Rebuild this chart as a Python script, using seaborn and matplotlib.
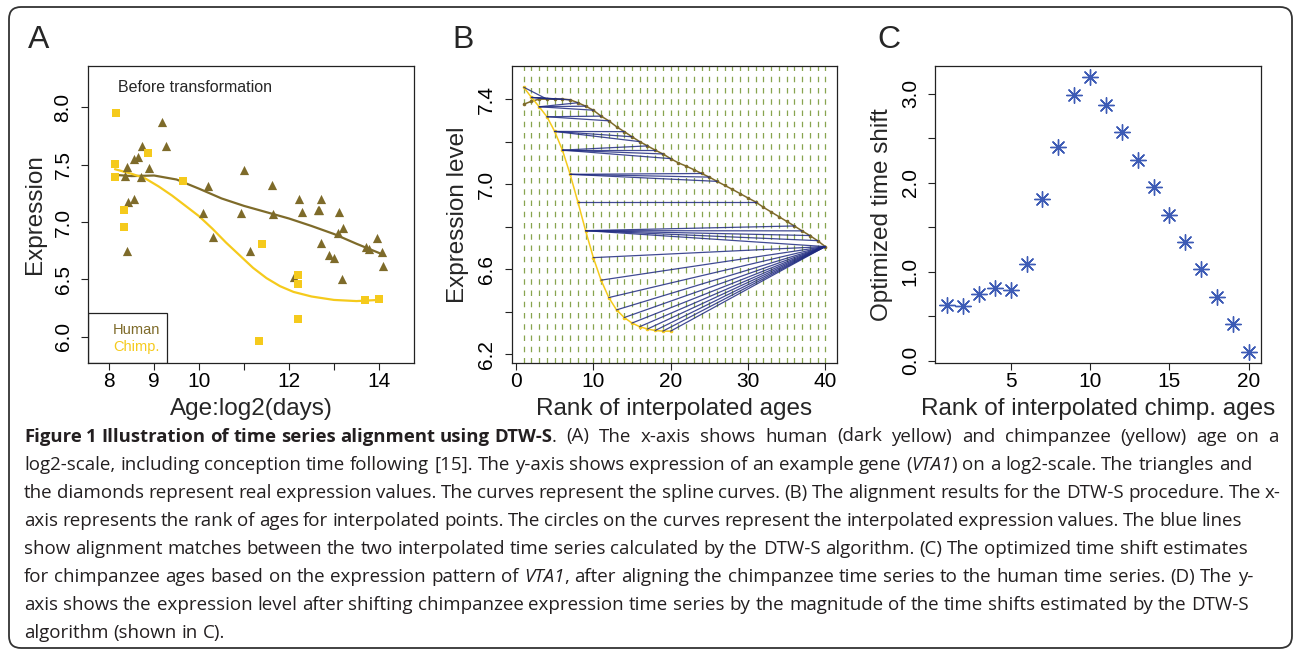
import matplotlib
matplotlib.use("Agg")
import matplotlib.pyplot as plt
import seaborn as sns
import pandas as pd
from matplotlib.patches import FancyBboxPatch, Rectangle
from matplotlib.transforms import IdentityTransform
from matplotlib.font_manager import FontProperties

# ---------------- Panel A data ----------------
human_age = [8.36, 8.39, 8.39, 8.41, 8.55, 8.55, 8.64, 8.72, 8.70, 8.89, 9.18, 9.26,
             10.20, 10.08, 10.31, 11.00, 10.94, 11.14, 11.63, 11.64, 12.11, 12.23,
             12.29, 12.65, 12.67, 12.72, 12.72, 12.89, 13.01, 13.11, 13.08, 13.21,
             13.18, 13.71, 13.79, 13.95, 14.06, 14.10]
human_expr = [7.40, 7.48, 6.75, 7.17, 7.20, 7.55, 7.57, 7.66, 7.39, 7.47, 7.87, 7.66,
              7.31, 7.08, 6.87, 7.45, 7.08, 6.75, 7.32, 7.07, 6.52, 7.20,
              7.09, 7.10, 7.10, 7.20, 6.82, 6.71, 6.69, 7.09, 6.90, 6.95,
              6.50, 6.78, 6.76, 6.86, 6.74, 6.62]
chimp_age = [8.16, 8.13, 8.14, 8.86, 8.34, 8.32, 9.65, 11.41, 12.19, 12.21, 12.19,
             11.34, 13.68, 14.00]
chimp_expr = [7.95, 7.505, 7.39, 7.60, 7.10, 6.96, 7.36, 6.81, 6.54, 6.46, 6.15,
              5.96, 6.32, 6.33]
human_curve_age = [8.15, 8.5, 9.0, 9.5, 10.0, 10.5, 11.0, 11.5, 12.0, 12.5, 13.0,
                   13.5, 14.0, 14.1]
human_curve_expr = [7.41, 7.40, 7.405, 7.37, 7.29, 7.205, 7.14, 7.085, 7.03, 6.965,
                    6.895, 6.81, 6.73, 6.71]
chimp_curve_age = [8.13, 8.5, 8.8, 9.1, 9.4, 9.7, 10.0, 10.3, 10.6, 10.9, 11.2,
                   11.5, 11.8, 12.1, 12.5, 13.0, 13.5, 14.0]
chimp_curve_expr = [7.46, 7.42, 7.38, 7.31, 7.23, 7.14, 7.05, 6.94, 6.82, 6.71, 6.60,
                    6.51, 6.44, 6.39, 6.35, 6.32, 6.31, 6.32]

# ---------------- Panel B data ----------------
human_rank = list(range(1, 41))
human_interp = [7.376, 7.39, 7.40, 7.40, 7.40, 7.40, 7.397, 7.383, 7.367, 7.348,
                7.32, 7.298, 7.27, 7.247, 7.223, 7.20, 7.18, 7.16, 7.142, 7.12,
                7.10, 7.085, 7.068, 7.05, 7.033, 7.013, 6.994, 6.975, 6.955, 6.935,
                6.916, 6.891, 6.869, 6.847, 6.825, 6.803, 6.78, 6.758, 6.734, 6.706]
chimp_rank = list(range(1, 21))
chimp_interp = [7.456, 7.408, 7.364, 7.317, 7.248, 7.16, 7.046, 6.916, 6.781, 6.654,
                6.548, 6.466, 6.408, 6.372, 6.346, 6.329, 6.318, 6.311, 6.308, 6.308]
match_chimp = [1, 2, 2, 2, 3, 3, 3, 4, 4, 5, 5, 5, 6, 6, 6, 6, 7, 7, 7, 8,
               9, 9, 9, 9, 9, 10, 11, 12, 13, 14, 15, 16, 17, 18, 19, 20]
match_human = [4, 5, 6, 7, 8, 9, 10, 11, 12, 14, 15, 16, 17, 18, 19, 20, 24, 25, 26, 31,
               36, 37, 38, 39, 40, 40, 40, 40, 40, 40, 40, 40, 40, 40, 40, 40]

# ---------------- Panel C data ----------------
shift_rank = list(range(1, 21))
time_shift = [0.625, 0.614, 0.752, 0.812, 0.80, 1.092, 1.818, 2.40, 2.985, 3.187,
              2.88, 2.57, 2.26, 1.95, 1.64, 1.34, 1.03, 0.72, 0.41, 0.097]

# ---------------- styling ----------------
HUMAN_C = "#7E6B2A"
CHIMP_C = "#F5CA1C"
BLUE_LINE = "#1F2A80"
GREEN = "#6B8E23"
STAR_C = "#3D5BB5"

sns.set_style("white")
plt.rcParams["font.family"] = ["Liberation Sans", "DejaVu Sans"]

W, H = 1295, 651
fig = plt.figure(figsize=(W / 100, H / 100), dpi=100)
fig.patch.set_facecolor("white")


def add_axes_px(x0, x1, y0, y1):
    return fig.add_axes([x0 / W, 1 - y1 / H, (x1 - x0) / W, (y1 - y0) / H])


def style_axes(ax):
    for s in ax.spines.values():
        s.set_visible(True)
        s.set_color("#222222")
        s.set_linewidth(0.9)
    ax.tick_params(axis="both", direction="out", length=5, width=0.8,
                   colors="#222222", labelsize=15, bottom=True, left=True)
    ax.tick_params(axis="x", pad=8)
    ax.tick_params(axis="y", pad=13)
    ax.set_facecolor("white")


def set_ticks(ax, xt, xl, yt, yl):
    ax.set_xticks(xt)
    ax.set_xticklabels(xl, va="center", color="black")
    ax.set_yticks(yt)
    ax.set_yticklabels(yl, rotation=90, va="center", ha="center", color="black")


def set_labels(ax, xlabel, ylabel, ylx):
    ax.set_xlabel(xlabel, fontsize=17.5, va="center")
    ax.xaxis.set_label_coords(0.5, -46 / 297)
    ax.set_ylabel(ylabel, fontsize=17.5, va="center", ha="center")
    ax.yaxis.set_label_coords(ylx, 0.5)


# ---------------- Panel A ----------------
axA = add_axes_px(88, 414, 66, 363)
style_axes(axA)
sns.lineplot(x=human_curve_age, y=human_curve_expr, ax=axA, color=HUMAN_C, lw=1.6,
             sort=False, estimator=None)
sns.lineplot(x=chimp_curve_age, y=chimp_curve_expr, ax=axA, color=CHIMP_C, lw=1.6,
             sort=False, estimator=None)
sns.scatterplot(x=human_age, y=human_expr, ax=axA, marker="^", s=44, color=HUMAN_C,
                linewidth=0, zorder=3)
sns.scatterplot(x=chimp_age, y=chimp_expr, ax=axA, marker="s", s=28, color=CHIMP_C,
                linewidth=0, zorder=3)
axA.set_xlim(7.53, 14.78)
axA.set_ylim(5.77, 8.36)
set_ticks(axA, [8, 9, 10, 11, 12, 13, 14], ["8", "9", "10", "", "12", "", "14"],
          [6.0, 6.5, 7.0, 7.5, 8.0], ["6.0", "6.5", "7.0", "7.5", "8.0"])
set_labels(axA, "Age:log2(days)", "Expression", -53 / 326)
axA.text(30 / 326, 0.929, "Before transformation", transform=axA.transAxes,
         fontsize=11.5, va="center", ha="left")
axA.add_patch(Rectangle((0, 0), 79 / 326, 50 / 297, transform=axA.transAxes,
                        fill=False, ec="#222222", lw=0.9, zorder=4))
axA.text(25 / 326, 0.111, "Human", transform=axA.transAxes, color=HUMAN_C,
         fontsize=10.5, va="center", ha="left")
axA.text(25 / 326, 0.054, "Chimp.", transform=axA.transAxes, color=CHIMP_C,
         fontsize=10.5, va="center", ha="left")

# ---------------- Panel B ----------------
axB = add_axes_px(511.7, 837.3, 66, 363)
style_axes(axB)
for xi in human_rank:
    axB.axvline(xi, color=GREEN, lw=0.9, alpha=0.8, dashes=(4.4, 4.6), zorder=1)
sns.lineplot(x=human_rank, y=human_interp, ax=axB, color=HUMAN_C, lw=1.1,
             marker="o", markersize=2.6, markeredgewidth=0, sort=False,
             estimator=None, zorder=2)
sns.lineplot(x=chimp_rank, y=chimp_interp, ax=axB, color=CHIMP_C, lw=1.1,
             marker="o", markersize=2.6, markeredgewidth=0, sort=False,
             estimator=None, zorder=2)
for ci, hi in zip(match_chimp, match_human):
    axB.plot([chimp_rank[ci - 1], human_rank[hi - 1]],
             [chimp_interp[ci - 1], human_interp[hi - 1]],
             color=BLUE_LINE, lw=0.9, alpha=0.85, zorder=3)
axB.set_xlim(-0.56, 41.56)
axB.set_ylim(6.158, 7.556)
set_ticks(axB, [0, 10, 20, 30, 40], ["0", "10", "20", "30", "40"],
          [6.2, 6.4, 6.6, 6.8, 7.0, 7.2, 7.4], ["6.2", "", "6.6", "", "7.0", "", "7.4"])
set_labels(axB, "Rank of interpolated ages", "Expression level", -53.7 / 325.6)

# ---------------- Panel C ----------------
axC = add_axes_px(935.3, 1260.7, 66, 363)
style_axes(axC)
sns.scatterplot(x=shift_rank, y=time_shift, ax=axC, marker=(8, 2, 0), s=125,
                color=STAR_C, edgecolor=STAR_C, linewidth=1.0, zorder=3)
axC.set_xlim(0.24, 20.76)
axC.set_ylim(-0.026, 3.314)
set_ticks(axC, [5, 10, 15, 20], ["5", "10", "15", "20"],
          [0.0, 0.5, 1.0, 1.5, 2.0, 2.5, 3.0], ["0.0", "", "1.0", "", "2.0", "", "3.0"])
set_labels(axC, "Rank of interpolated chimp. ages", "Optimized time shift", -53.3 / 325.4)

# ---------------- panel letters ----------------
for lx, letter in [(28, "A"), (452, "B"), (877, "C")]:
    fig.text(lx / W, 1 - 48 / H, letter, fontsize=23, va="baseline", ha="left")

# ---------------- frame ----------------
frame = FancyBboxPatch((9, H - 648), 1283, 641,
                       boxstyle="round,pad=0,rounding_size=12",
                       transform=IdentityTransform(), fill=False,
                       ec="#333333", lw=1.3)
fig.add_artist(frame)

# ---------------- caption ----------------
CAP_FONT = ["Open Sans", "DejaVu Sans"]
caption_lines = [
    [("Figure 1 Illustration of time series alignment using DTW-S", "bold", "normal"),
     (". (A) The x-axis shows human (dark yellow) and chimpanzee (yellow) age on a", "normal", "normal")],
    [("log2-scale, including conception time following [15]. The y-axis shows expression of an example gene (", "normal", "normal"),
     ("VTA1", "normal", "italic"),
     (") on a log2-scale. The triangles and", "normal", "normal")],
    [("the diamonds represent real expression values. The curves represent the spline curves. (B) The alignment results for the DTW-S procedure. The x-", "normal", "normal")],
    [("axis represents the rank of ages for interpolated points. The circles on the curves represent the interpolated expression values. The blue lines", "normal", "normal")],
    [("show alignment matches between the two interpolated time series calculated by the DTW-S algorithm. (C) The optimized time shift estimates", "normal", "normal")],
    [("for chimpanzee ages based on the expression pattern of ", "normal", "normal"),
     ("VTA1", "normal", "italic"),
     (", after aligning the chimpanzee time series to the human time series. (D) The y-", "normal", "normal")],
    [("axis shows the expression level after shifting chimpanzee expression time series by the magnitude of the time shifts estimated by the DTW-S", "normal", "normal")],
    [("algorithm (shown in C).", "normal", "normal")],
]
line_ends = [1279, 1252, 1281, 1242, 1248, 1253, 1249, None]
BOLD_END = 552.0

renderer = fig.canvas.get_renderer()


def seg_width(text, weight, style, size):
    fp = FontProperties(family=CAP_FONT, weight=weight, style=style, size=size)
    w1, _, _ = renderer.get_text_width_height_descent(text + "|", fp, ismath=False)
    w2, _, _ = renderer.get_text_width_height_descent("|", fp, ismath=False)
    return w1 - w2


def tokenize(runs):
    words = [[]]
    for text, weight, style in runs:
        parts = text.split(" ")
        for k, p in enumerate(parts):
            if k > 0:
                words.append([])
            if p:
                words[-1].append((p, weight, style))
    return [w for w in words if w]


def draw_justified(runs, x0, x1, y_base, size, sizes=None):
    words = tokenize(runs)
    sz = lambda wt: (sizes or {}).get(wt, size)
    word_w = [sum(seg_width(p, wt, st, sz(wt)) for p, wt, st in w) for w in words]
    space_w = seg_width(" ", "normal", "normal", size)
    n_gaps = len(words) - 1
    gap = space_w
    if x1 is not None and n_gaps > 0:
        natural = sum(word_w) + n_gaps * space_w
        gap = space_w + (x1 - x0 - natural) / n_gaps
    x = x0
    for w, ww in zip(words, word_w):
        xx = x
        for p, wt, st in w:
            fig.text(xx / W, 1 - y_base / H, p, fontsize=sz(wt), fontweight=wt,
                     fontstyle=st, family=CAP_FONT, va="baseline", ha="left",
                     color="#231f20")
            xx += seg_width(p, wt, st, sz(wt))
        x += ww + gap
    return x


x_start = 24.0
base_size = 12.0
ratios = []
for idx in (2, 3, 4, 6):
    natural = sum(seg_width(t, wt, st, base_size) for t, wt, st in caption_lines[idx])
    ratios.append((line_ends[idx] - x_start) / natural)
cap_size = base_size * sum(ratios) / len(ratios)

# line 1: bold title fitted to its span, rest justified
bold_text = caption_lines[0][0][0]
bold_nat = seg_width(bold_text, "bold", "normal", cap_size)
bold_size = cap_size * min(1.0, (BOLD_END - x_start) / bold_nat)
y0 = 441.5
draw_justified([caption_lines[0][0]], x_start, BOLD_END, y0, cap_size,
               sizes={"bold": bold_size})
draw_justified([caption_lines[0][1]], BOLD_END, line_ends[0], y0, cap_size)

for i in range(1, len(caption_lines)):
    draw_justified(caption_lines[i], x_start, line_ends[i], 441.5 + 28.1 * i, cap_size)

fig.savefig("out.png", dpi=100, facecolor="white")
